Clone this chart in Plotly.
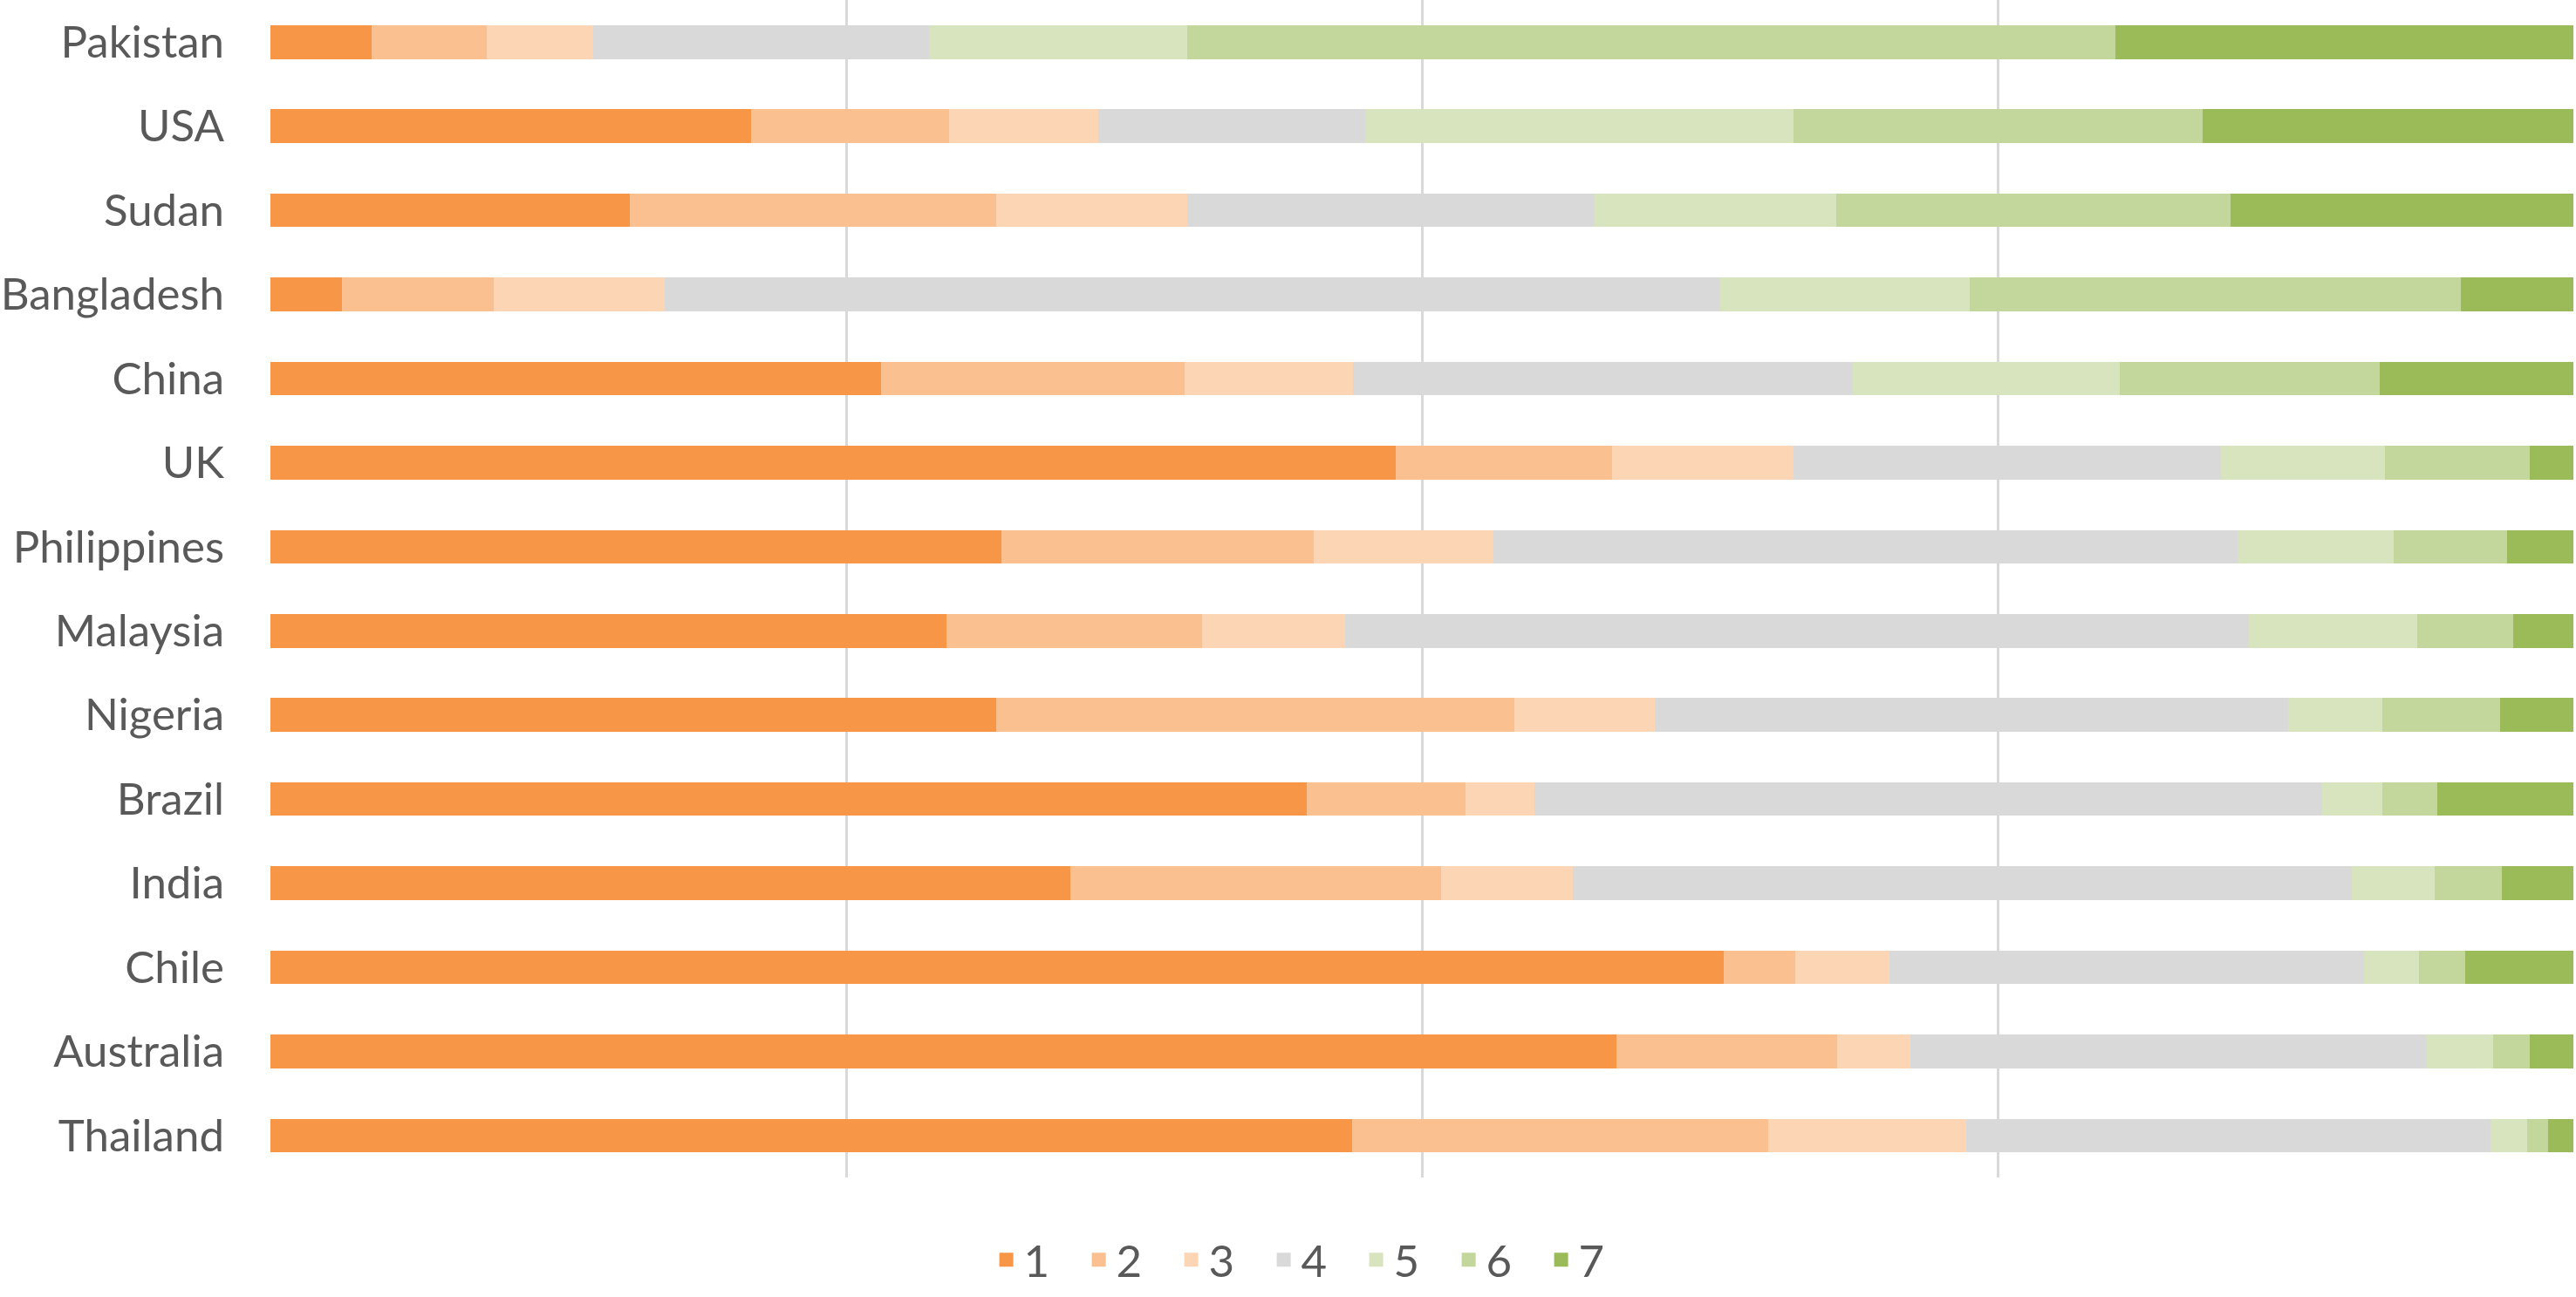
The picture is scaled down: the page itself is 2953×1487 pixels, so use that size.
import plotly.graph_objects as go

# Countries listed top to bottom as they appear in the chart
countries = ['Pakistan', 'USA', 'Sudan', 'Bangladesh', 'China', 'UK', 'Philippines',
             'Malaysia', 'Nigeria', 'Brazil', 'India', 'Chile', 'Australia', 'Thailand']

# Share (%) of each response level per country
s1 = [4.4, 20.9, 15.6, 3.1, 26.5, 48.9, 31.8, 29.4, 31.5, 45.0, 34.7, 63.1, 58.5, 47.0]
s2 = [5.0, 8.6, 15.9, 6.6, 13.2, 9.4, 13.6, 11.1, 22.5, 6.9, 16.1, 3.1, 9.6, 18.1]
s3 = [4.6, 6.5, 8.3, 7.4, 7.3, 7.9, 7.8, 6.2, 6.1, 3.0, 5.7, 4.1, 3.2, 8.6]
s4 = [14.6, 11.6, 17.7, 45.8, 21.7, 18.6, 32.4, 39.3, 27.5, 34.2, 33.8, 20.6, 22.4, 22.8]
s5 = [11.2, 18.6, 10.5, 10.8, 11.6, 7.1, 6.8, 7.3, 4.1, 2.6, 3.6, 2.4, 2.9, 1.6]
s6 = [40.3, 17.8, 17.1, 21.3, 11.3, 6.3, 4.9, 4.2, 5.1, 2.4, 2.9, 2.0, 1.6, 0.9]
s7 = [19.9, 16.1, 14.9, 4.9, 8.4, 1.9, 2.9, 2.6, 3.2, 5.9, 3.1, 4.7, 1.9, 1.1]

levels = ['1', '2', '3', '4', '5', '6', '7']
series = [s1, s2, s3, s4, s5, s6, s7]
colors = ['#F79646', '#FAC090', '#FCD5B5', '#D9D9D9', '#D7E4BD', '#C3D69B', '#9BBB59']

fig = go.Figure()

for name, vals, col in zip(levels, series, colors):
    fig.add_trace(go.Bar(y=countries, x=vals, name=name, orientation='h',
                         marker=dict(color=col, line=dict(width=0)),
                         showlegend=False))

# bigger square swatches for the legend
for name, col in zip(levels, colors):
    fig.add_trace(go.Scatter(x=[None], y=[None], mode='markers', name=name,
                             marker=dict(symbol='square', size=16, color=col)))

fig.update_layout(
    barmode='stack',
    barnorm='percent',
    bargap=0.6,
    width=2953, height=1487,
    margin=dict(l=310, r=3, t=0, b=137, autoexpand=False),
    plot_bgcolor='white', paper_bgcolor='white',
    font=dict(family='Lato', size=51, color='#595959'),
    legend=dict(orientation='h', x=0.4525, xanchor='center', y=-0.07, yanchor='middle',
                traceorder='normal',
                font=dict(size=51, color='#595959'), entrywidth=61, entrywidthmode='pixels'),
)

fig.update_xaxes(range=[0, 100], dtick=25, showticklabels=False, showgrid=True,
                 gridcolor='#D9D9D9', gridwidth=2.5, zeroline=False, showline=False)
fig.update_yaxes(autorange='reversed', showgrid=False, showline=False, ticks='',
                 ticklabelstandoff=52, automargin=False)

# drop the default page margin so the figure sits at the window's corner
fig.write_html("out.html", config={'displayModeBar': False},
               post_script="document.body.style.margin='0';")
